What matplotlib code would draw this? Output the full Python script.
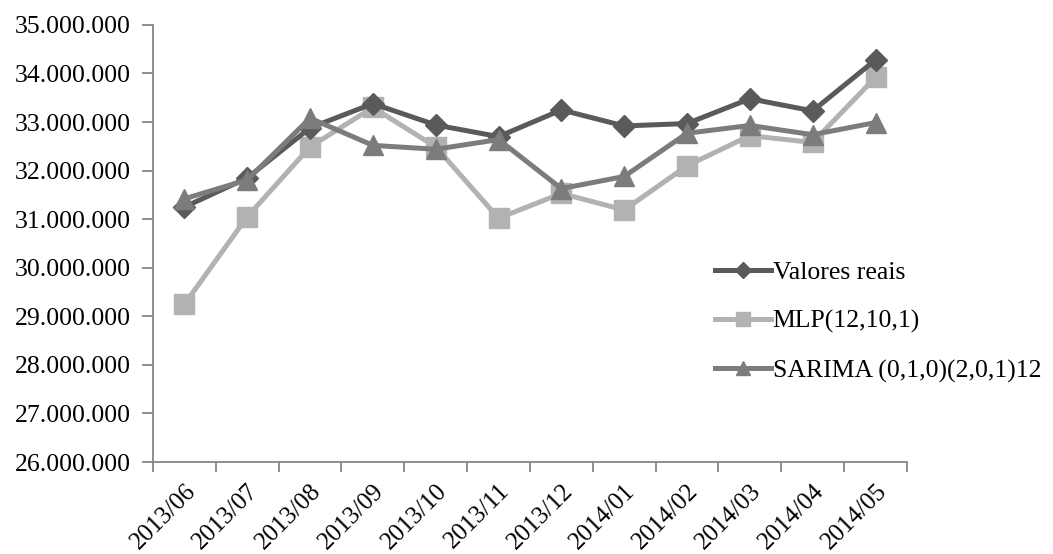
import numpy as np
import matplotlib
matplotlib.use('Agg')
import matplotlib.pyplot as plt
from matplotlib.ticker import FuncFormatter, FixedLocator

plt.rcParams['font.family'] = ['Liberation Serif', 'DejaVu Serif']

meses = ["2013/06", "2013/07", "2013/08", "2013/09", "2013/10", "2013/11",
         "2013/12", "2014/01", "2014/02", "2014/03", "2014/04", "2014/05"]

valores_reais = [31.25, 31.85, 32.88, 33.38, 32.94, 32.70,
                 33.25, 32.92, 32.97, 33.48, 33.23, 34.28]
mlp = [29.25, 31.05, 32.49, 33.30, 32.49, 31.02,
       31.53, 31.19, 32.10, 32.72, 32.58, 33.92]
sarima = [31.42, 31.81, 33.08, 32.52, 32.44, 32.64,
          31.63, 31.88, 32.77, 32.93, 32.74, 32.99]
# valores em milhões
valores_reais = np.array(valores_reais) * 1e6
mlp = np.array(mlp) * 1e6
sarima = np.array(sarima) * 1e6

fig = plt.figure(figsize=(10.53, 5.54), dpi=100)
ax = fig.add_axes([0.1453, 0.166, 0.716, 0.789])

x = np.arange(len(meses))
ax.plot(x, valores_reais, color='#5a5a5a', lw=3.6, marker='D', ms=11,
        label='Valores reais', zorder=3)
ax.plot(x, mlp, color='#b2b2b2', lw=3.6, marker='s', ms=14,
        label='MLP(12,10,1)', zorder=2)
ax.plot(x, sarima, color='#7c7c7c', lw=3.6, marker='^', ms=14,
        label='SARIMA (0,1,0)(2,0,1)12', zorder=4)

ax.set_xlim(-0.5, len(meses) - 0.5)
ax.set_ylim(26e6, 35e6)
ax.set_yticks(np.arange(26e6, 35.1e6, 1e6))
ax.yaxis.set_major_formatter(FuncFormatter(lambda v, p: f"{int(round(v)):,}".replace(",", ".")))

ax.set_xticks(x)
ax.set_xticklabels(meses, rotation=45, ha='right', rotation_mode='anchor')
ax.xaxis.set_minor_locator(FixedLocator(np.arange(-0.5, len(meses), 1)))
ax.tick_params(axis='x', which='major', length=0, pad=13, labelsize=18)
ax.tick_params(axis='x', which='minor', length=7, color='#868686', width=1.3)
ax.tick_params(axis='y', length=8, color='#868686', width=1.3, labelsize=18.5, pad=8)

for s in ['top', 'right']:
    ax.spines[s].set_visible(False)
for s in ['left', 'bottom']:
    ax.spines[s].set_color('#868686')
    ax.spines[s].set_linewidth(1.3)

leg = fig.legend(loc='upper left', bbox_to_anchor=(0.657, 0.57), frameon=False,
                 fontsize=18.5, handlelength=2.2, handletextpad=0.05,
                 labelspacing=1.0, markerscale=0.75)

fig.savefig('out.png', dpi=100)
